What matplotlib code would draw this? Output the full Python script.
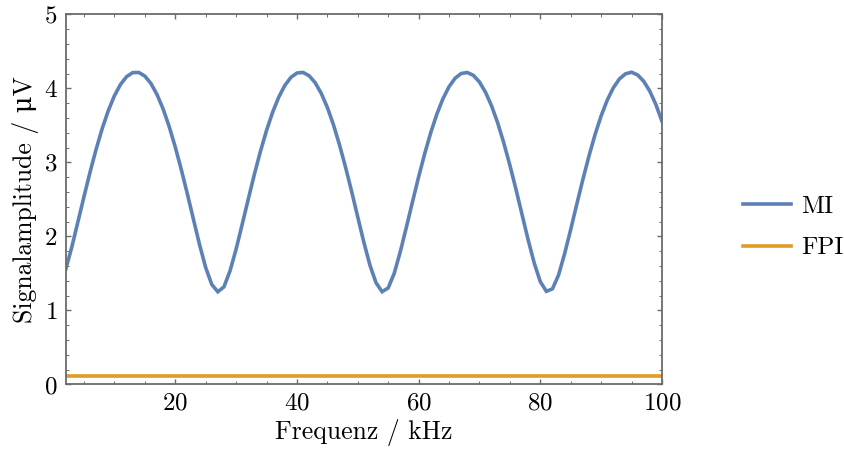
import matplotlib
matplotlib.use("Agg")
import matplotlib.pyplot as plt
from matplotlib.ticker import MultipleLocator
from matplotlib.lines import Line2D

# Data (frequency in kHz, amplitude in µV)
freq_khz = list(range(2, 101))
mi_amplitude = [
    1.556, 1.857, 2.196, 2.537, 2.870, 3.179, 3.459, 3.700, 3.900, 4.053,
    4.158, 4.212, 4.215, 4.166, 4.066, 3.917, 3.723, 3.485, 3.208, 2.901,
    2.571, 2.227, 1.887, 1.580, 1.351, 1.252,
    1.318, 1.534, 1.827, 2.162, 2.503, 2.837, 3.148, 3.431, 3.676, 3.880,
    4.038, 4.148, 4.207, 4.215, 4.171, 4.076, 3.932, 3.742, 3.509, 3.236,
    2.932, 2.604, 2.261, 1.921, 1.611, 1.374, 1.253,
    1.304, 1.503, 1.797, 2.128, 2.469, 2.803, 3.117, 3.403, 3.652, 3.860,
    4.022, 4.137, 4.201, 4.214, 4.176, 4.086, 3.947, 3.762, 3.533, 3.263,
    2.962, 2.637, 2.296, 1.955, 1.641, 1.389, 1.258,
    1.292, 1.478, 1.767, 2.094, 2.435, 2.770, 3.086, 3.375, 3.628, 3.840,
    4.007, 4.127, 4.196, 4.218, 4.181, 4.096, 3.962, 3.781, 3.556,
]
fpi_amplitude = [0.12] * len(freq_khz)

series_labels = ["MI", "FPI"]
x_label = "Frequenz / kHz"
y_label = "Signalamplitude / \u03bcV"

plt.rcParams["font.family"] = ["cmr10", "DejaVu Serif"]
plt.rcParams["mathtext.fontset"] = "cm"
plt.rcParams["axes.formatter.use_mathtext"] = True

blue = "#5E81B5"
orange = "#E19C24"
frame = "#6b6b6b"

fig = plt.figure(figsize=(8.45, 4.55), dpi=100)
ax = fig.add_axes([0.0778, 0.155, 0.7056, 0.8135])

ax.plot(freq_khz, mi_amplitude, color=blue, lw=2.6, solid_joinstyle="miter")
ax.plot(freq_khz, fpi_amplitude, color=orange, lw=2.6)

ax.set_xlim(2, 100)
ax.set_ylim(0, 5)
ax.xaxis.set_major_locator(MultipleLocator(20))
ax.xaxis.set_minor_locator(MultipleLocator(5))
ax.yaxis.set_major_locator(MultipleLocator(1))
ax.yaxis.set_minor_locator(MultipleLocator(0.2))

for s in ax.spines.values():
    s.set_color(frame)
    s.set_linewidth(1.3)

ax.tick_params(which="both", direction="in", top=True, right=True,
               color=frame, labelsize=18)
ax.tick_params(axis="x", pad=6)
ax.tick_params(axis="y", pad=6)
ax.tick_params(which="major", length=3.5, width=1.0)
ax.tick_params(which="minor", length=2.0, width=0.7)

ax.set_xlabel(x_label, fontsize=18.5, labelpad=3)
ax.set_ylabel(y_label, fontsize=18.5, labelpad=3)

handles = [Line2D([], [], color=blue, lw=2.6), Line2D([], [], color=orange, lw=2.6)]
fig.legend(handles, series_labels, loc="center left", bbox_to_anchor=(0.853, 0.5),
           frameon=False, fontsize=18, handlelength=1.9, labelspacing=0.75,
           handletextpad=0.4)

fig.savefig("out.png", dpi=100)
